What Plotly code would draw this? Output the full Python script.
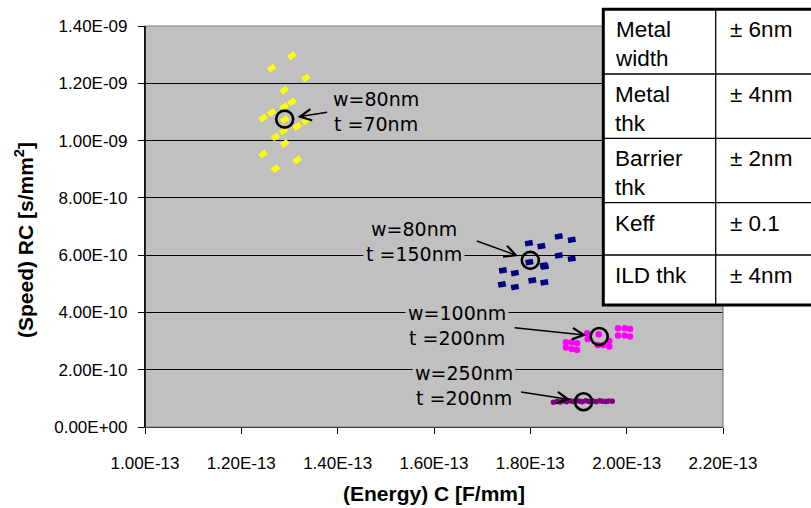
import plotly.graph_objects as go

# ---- simulated spread of RC delay vs. capacitance for four wire geometries ----
yellow_c = [1.305e-13, 1.263e-13, 1.334e-13, 1.289e-13, 1.305e-13, 1.289e-13, 1.263e-13,
            1.245e-13, 1.334e-13, 1.316e-13, 1.288e-13, 1.271e-13, 1.290e-13, 1.245e-13,
            1.316e-13, 1.271e-13, 1.290e-13]
yellow_rc = [1.296e-9, 1.253e-9, 1.219e-9, 1.176e-9, 1.135e-9, 1.118e-9, 1.098e-9,
             1.079e-9, 1.069e-9, 1.049e-9, 1.034e-9, 1.013e-9, 0.990e-9, 0.953e-9,
             0.932e-9, 0.902e-9, 1.073e-9]

blue_c = [1.797e-13, 1.823e-13, 1.859e-13, 1.886e-13, 1.859e-13, 1.886e-13, 1.798e-13,
          1.828e-13, 1.743e-13, 1.768e-13, 1.804e-13, 1.829e-13, 1.741e-13, 1.768e-13,
          1.830e-13]
blue_rc = [6.418e-10, 6.314e-10, 6.652e-10, 6.537e-10, 5.990e-10, 5.875e-10, 5.757e-10,
           5.642e-10, 5.468e-10, 5.374e-10, 5.119e-10, 5.050e-10, 4.980e-10, 4.886e-10,
           5.600e-10]

magenta_c = [1.874e-13, 1.886e-13, 1.897e-13, 1.874e-13, 1.886e-13, 1.897e-13, 1.918e-13,
             1.919e-13, 1.942e-13, 1.940e-13, 1.952e-13, 1.964e-13, 1.964e-13, 1.982e-13,
             1.996e-13, 2.007e-13, 1.982e-13, 1.996e-13, 2.007e-13]
magenta_rc = [2.960e-10, 2.960e-10, 2.925e-10, 2.776e-10, 2.727e-10, 2.692e-10, 3.274e-10,
              3.075e-10, 3.239e-10, 2.866e-10, 2.866e-10, 3.005e-10, 2.810e-10, 3.448e-10,
              3.448e-10, 3.423e-10, 3.194e-10, 3.194e-10, 3.159e-10]

purple_c = [1.848e-13, 1.856e-13, 1.862e-13, 1.868e-13, 1.875e-13, 1.882e-13, 1.888e-13,
            1.895e-13, 1.902e-13, 1.908e-13, 1.915e-13, 1.922e-13, 1.930e-13, 1.937e-13,
            1.944e-13, 1.950e-13, 1.957e-13, 1.963e-13, 1.970e-13]
purple_rc = [0.86e-10, 0.90e-10, 0.87e-10, 0.91e-10, 0.88e-10, 0.92e-10, 0.89e-10,
             0.93e-10, 0.90e-10, 0.88e-10, 0.92e-10, 0.89e-10, 0.91e-10, 0.88e-10,
             0.92e-10, 0.90e-10, 0.89e-10, 0.91e-10, 0.90e-10]

# nominal design points
nominal_c = [1.290e-13, 1.800e-13, 1.943e-13, 1.9105e-13]
nominal_rc = [1.075e-9, 5.816e-10, 3.159e-10, 0.881e-10]
nominal_labels = ["w=80nm<br>t =70nm", "w=80nm<br>t =150nm",
                  "w=100nm<br>t =200nm", "w=250nm<br>t =200nm"]

# process tolerances
param_names = ["Metal<br>width", "Metal<br>thk", "Barrier<br>thk", "Keff", "ILD thk"]
param_tol = ["± 6nm", "± 4nm", "± 2nm", "± 0.1", "± 4nm"]

x_ticks = [1.0e-13, 1.2e-13, 1.4e-13, 1.6e-13, 1.8e-13, 2.0e-13, 2.2e-13]
y_ticks = [0.0, 2e-10, 4e-10, 6e-10, 8e-10, 1.0e-9, 1.2e-9, 1.4e-9]

# ---- layout geometry (pixels) ----
W, H = 811, 508
L, R, T, B = 145, 88, 26, 81
PW, PH = W - L - R, H - T - B


def px(xp):
    return (xp - L) / PW


def py(yp):
    return (T + PH - yp) / PH


fig = go.Figure()

fig.add_trace(go.Scatter(
    x=yellow_c, y=yellow_rc, mode="markers",
    marker=dict(symbol="line-ew", size=5.5, angle=-35, color="#FFFF00",
                line=dict(color="#FFFF00", width=5.5))))
fig.add_trace(go.Scatter(
    x=blue_c, y=blue_rc, mode="markers",
    marker=dict(symbol="line-ew", size=5.5, angle=-10, color="#000080",
                line=dict(color="#000080", width=5.5))))
fig.add_trace(go.Scatter(
    x=magenta_c, y=magenta_rc, mode="markers",
    marker=dict(symbol="circle", size=6.5, color="#FF00FF", line=dict(width=0))))
fig.add_trace(go.Scatter(
    x=purple_c, y=purple_rc, mode="markers",
    marker=dict(symbol="circle", size=5.5, color="#800080", line=dict(width=0))))
fig.add_trace(go.Scatter(
    x=nominal_c, y=nominal_rc, mode="markers",
    marker=dict(symbol="circle-open", size=17, color="black",
                line=dict(color="black", width=2.6))))

annotations = []
# label offsets (px) and arrow tails relative to each nominal point
label_shift = [(91, 8), (-116, 19), (-142, 11), (-120, 16)]
arrow_tail = [(44, -7), (-55, -20), (-86, -9), (-64, -10)]
for c, rc, txt, (dx, dy), (ax, ay) in zip(nominal_c, nominal_rc, nominal_labels,
                                           label_shift, arrow_tail):
    annotations.append(dict(
        x=c, y=rc, xref="x", yref="y", text="", showarrow=True,
        ax=ax, ay=ay, axref="pixel", ayref="pixel",
        arrowhead=5, arrowsize=1.5, arrowwidth=1.5, arrowcolor="black", standoff=13))
    annotations.append(dict(
        x=c, y=rc, xref="x", yref="y", text=txt, showarrow=False,
        xshift=dx, yshift=dy, xanchor="center", yanchor="middle", align="center",
        bgcolor="#C0C0C0", borderpad=2,
        font=dict(family="DejaVu Sans", size=19, color="black")))

# axis titles
annotations.append(dict(
    x=0.5, y=py(493), xref="paper", yref="paper", showarrow=False,
    text="<b>(Energy) C [F/mm]</b>", xanchor="center", yanchor="middle",
    font=dict(family="Liberation Sans", size=21, color="black")))
annotations.append(dict(
    x=px(24), y=py(240), xref="paper", yref="paper", showarrow=False,
    text="<b>(Speed) RC [s/mm<sup>2</sup>]</b>", textangle=-90,
    xanchor="center", yanchor="middle",
    font=dict(family="Liberation Sans", size=21, color="black")))

shapes = [
    # plot-area frame
    dict(type="rect", xref="paper", yref="paper", x0=0, x1=1, y0=0, y1=1,
         line=dict(color="#808080", width=1.2), fillcolor="rgba(0,0,0,0)", layer="above"),
    dict(type="line", xref="paper", yref="paper", x0=0, x1=0, y0=0, y1=1,
         line=dict(color="black", width=1.5), layer="above"),
]

# tolerance table
tab_left, tab_mid, tab_right = 603.3, 715.7, 825
row_edges = [9.3, 74, 138.3, 202.7, 255, 305]
shapes.append(dict(type="rect", xref="paper", yref="paper",
                   x0=px(tab_left), x1=px(tab_right), y0=py(row_edges[-1]), y1=py(row_edges[0]),
                   fillcolor="white", line=dict(color="black", width=3), layer="above"))
for e in row_edges[1:-1]:
    shapes.append(dict(type="line", xref="paper", yref="paper",
                       x0=px(tab_left), x1=px(tab_right), y0=py(e), y1=py(e),
                       line=dict(color="black", width=1.3), layer="above"))
shapes.append(dict(type="line", xref="paper", yref="paper",
                   x0=px(tab_mid), x1=px(tab_mid), y0=py(row_edges[-1]), y1=py(row_edges[0]),
                   line=dict(color="black", width=1.3), layer="above"))

text_top_offset = 6
for i, (name, tol) in enumerate(zip(param_names, param_tol)):
    top = row_edges[i] + text_top_offset
    for xpos, txt in ((613, name), (728, tol)):
        annotations.append(dict(
            x=px(xpos), y=py(top), xref="paper", yref="paper", showarrow=False,
            text=txt, xanchor="left", yanchor="top", align="left",
            font=dict(family="Liberation Sans", size=22.5, color="black")))

fig.update_layout(
    width=W, height=H,
    margin=dict(l=L, r=R, t=T, b=B),
    paper_bgcolor="white", plot_bgcolor="#C0C0C0",
    showlegend=False,
    font=dict(family="Liberation Sans", size=17, color="black"),
    annotations=annotations, shapes=shapes,
    xaxis=dict(range=[x_ticks[0], x_ticks[-1]], tickvals=x_ticks,
               ticktext=[f"{v:.2E}" for v in x_ticks],
               ticks="outside", ticklen=6, tickcolor="black", tickwidth=1,
               showline=True, linecolor="black", linewidth=1.2,
               showgrid=False, zeroline=False, ticklabelstandoff=14,
               tickfont=dict(family="Liberation Sans", size=17, color="black")),
    yaxis=dict(range=[y_ticks[0], y_ticks[-1]], tickvals=y_ticks,
               ticktext=[f"{v:.2E}" for v in y_ticks],
               ticks="outside", ticklen=6, tickcolor="black", tickwidth=1,
               showline=True, linecolor="black", linewidth=1.2,
               showgrid=True, gridcolor="black", gridwidth=1,
               zeroline=False, ticklabelstandoff=7,
               tickfont=dict(family="Liberation Sans", size=17, color="black")),
)

fig.write_html("out.html")
